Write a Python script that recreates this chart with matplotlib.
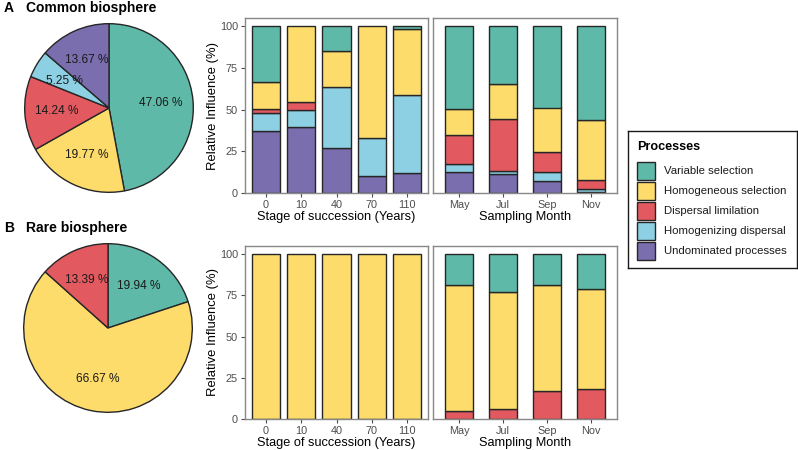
import matplotlib
matplotlib.use("Agg")
import matplotlib.pyplot as plt
import numpy as np
from matplotlib.patches import Rectangle

plt.rcParams['font.family'] = ['Liberation Sans', 'DejaVu Sans']

processes = ["Variable selection", "Homogeneous selection", "Dispersal limilation",
             "Homogenizing dispersal", "Undominated processes"]
colors = ["#5fb9a8", "#fddc6b", "#e2595f", "#8dd0e4", "#7a6eae"]

# Pie data (clockwise from 12 o'clock)
pie_common = [47.06, 19.77, 14.24, 5.25, 13.67]
pie_rare = [19.94, 66.67, 13.39, 0.0, 0.0]

stages = ["0", "10", "40", "70", "110"]
months = ["May", "Jul", "Sep", "Nov"]

common_stage = {
    "Variable selection":     [33.3, 0.0, 15.0, 0.0, 1.6],
    "Homogeneous selection":  [16.5, 45.3, 21.4, 66.7, 39.4],
    "Dispersal limilation":   [2.0, 4.7, 0.0, 0.0, 0.0],
    "Homogenizing dispersal": [10.7, 10.6, 36.3, 23.0, 47.1],
    "Undominated processes":  [37.5, 39.4, 27.3, 10.3, 11.9],
}
common_month = {
    "Variable selection":     [49.7, 34.5, 48.7, 56.4],
    "Homogeneous selection":  [15.4, 20.9, 26.9, 35.5],
    "Dispersal limilation":   [17.3, 31.5, 11.7, 5.7],
    "Homogenizing dispersal": [4.9, 1.8, 5.4, 1.6],
    "Undominated processes":  [12.7, 11.3, 7.3, 0.8],
}
rare_stage = {
    "Variable selection":     [0, 0, 0, 0, 0],
    "Homogeneous selection":  [100, 100, 100, 100, 100],
    "Dispersal limilation":   [0, 0, 0, 0, 0],
    "Homogenizing dispersal": [0, 0, 0, 0, 0],
    "Undominated processes":  [0, 0, 0, 0, 0],
}
rare_month = {
    "Variable selection":     [18.8, 22.8, 18.8, 20.8],
    "Homogeneous selection":  [76.5, 71.3, 64.0, 61.0],
    "Dispersal limilation":   [4.7, 5.9, 17.2, 18.2],
    "Homogenizing dispersal": [0, 0, 0, 0],
    "Undominated processes":  [0, 0, 0, 0],
}

W, H = 798, 450
fig = plt.figure(figsize=(W / 100, H / 100), dpi=100)

def ax_px(x0, y0, x1, y1):
    return fig.add_axes([x0 / W, 1 - y1 / H, (x1 - x0) / W, (y1 - y0) / H])

frame_col = "#888888"
tick_col = "#4d4d4d"
edge_col = "#262626"

def bar_panel(ax, cats, data, width, show_y, xlabel):
    x = np.arange(len(cats))
    bottom = np.zeros(len(cats))
    for proc, col in zip(processes[::-1], colors[::-1]):
        vals = np.array(data[proc], dtype=float)
        mask = vals > 0
        ax.bar(x[mask], vals[mask], bottom=bottom[mask], width=width, color=col,
               edgecolor=edge_col, linewidth=1.0, zorder=2)
        bottom += vals
    ax.set_xlim(-0.6, len(cats) - 0.4)
    ax.set_ylim(0, 105)
    ax.set_xticks(x)
    ax.set_xticklabels(cats)
    for s in ax.spines.values():
        s.set_color(frame_col)
        s.set_linewidth(1.0)
    ax.tick_params(axis="x", colors=tick_col, labelsize=7.8, length=3, pad=2,
                   labelcolor=tick_col)
    if show_y:
        ax.set_yticks([0, 25, 50, 75, 100])
        ax.tick_params(axis="y", colors=tick_col, labelsize=7.8, length=3, pad=2,
                       labelcolor=tick_col)
        ax.set_ylabel("Relative Influence (%)", fontsize=9.4, color="black", labelpad=1)
    else:
        ax.set_yticks([])
    ax.set_xlabel(xlabel, fontsize=9.2, color="black", labelpad=1)

# Top row
a1 = ax_px(245, 18, 428, 193)
bar_panel(a1, stages, common_stage, 0.8, True, "Stage of succession (Years)")
a2 = ax_px(433, 18, 617, 193)
bar_panel(a2, months, common_month, 0.64, False, "Sampling Month")
# Bottom row
b1 = ax_px(245, 246, 428, 419)
bar_panel(b1, stages, rare_stage, 0.8, True, "Stage of succession (Years)")
b2 = ax_px(433, 246, 617, 419)
bar_panel(b2, months, rare_month, 0.64, False, "Sampling Month")

# Pies
def pie_panel(cx, cy, r, vals):
    ax = ax_px(cx - r - 2, cy - r - 2, cx + r + 2, cy + r + 2)
    v = [val for val in vals if val > 0]
    c = [col for val, col in zip(vals, colors) if val > 0]
    ax.pie(v, colors=c, startangle=90, counterclock=False,
           wedgeprops=dict(edgecolor=edge_col, linewidth=1.0), radius=1.0)
    total = sum(v)
    ang = 90.0
    for val in v:
        mid = ang - val / total * 360 / 2
        ang -= val / total * 360
        rr = 0.62
        ax.text(rr * np.cos(np.radians(mid)), rr * np.sin(np.radians(mid)),
                f"{val:.2f} %", ha="center", va="center", fontsize=8.6, color="#1a1a1a")
    ax.set_xlim(-1.02, 1.02)
    ax.set_ylim(-1.02, 1.02)
    ax.set_aspect("equal")
    ax.axis("off")

pie_panel(109, 108, 84, pie_common)
pie_panel(108, 328, 84, pie_rare)

fig.text(4 / W, 1 - 8 / H, "A", fontsize=10, fontweight="bold", va="center")
fig.text(26 / W, 1 - 8 / H, "Common biosphere", fontsize=10, fontweight="bold", va="center")
fig.text(4 / W, 1 - 228 / H, "B", fontsize=10, fontweight="bold", va="center")
fig.text(26 / W, 1 - 228 / H, "Rare biosphere", fontsize=10, fontweight="bold", va="center")

# Legend (drawn in its own pixel-coordinate axes)
lg = ax_px(628, 131, 797, 268)
lg.set_xlim(0, 169)
lg.set_ylim(137, 0)
lg.set_xticks([])
lg.set_yticks([])
for s in lg.spines.values():
    s.set_color("#1a1a1a")
    s.set_linewidth(1.0)
lg.text(9, 16, "Processes", fontsize=9.1, fontweight="bold", va="center", ha="left")
for i, (proc, col) in enumerate(zip(processes, colors)):
    y0 = 31 + i * 20
    lg.add_patch(Rectangle((9, y0), 18, 18, facecolor=col, edgecolor=edge_col, linewidth=1.0))
    lg.text(36, y0 + 9.5, proc, fontsize=8.2, va="center", ha="left", color="#1a1a1a")

fig.savefig("out.png", dpi=100)
